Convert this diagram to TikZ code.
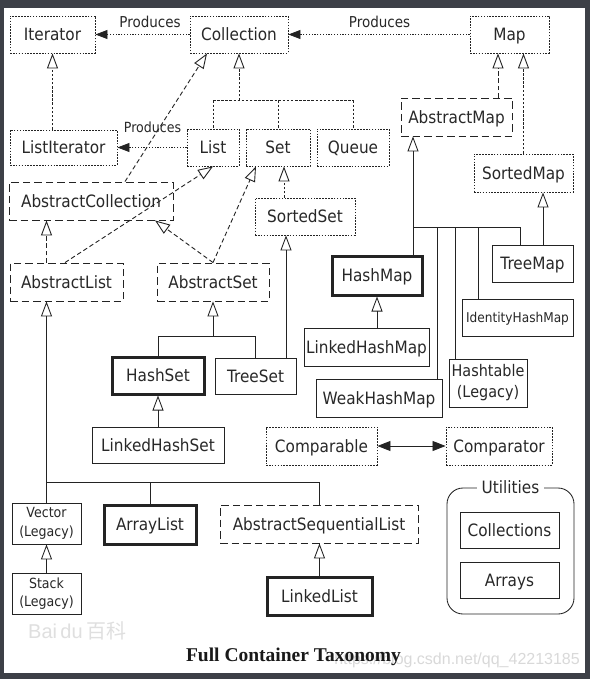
\documentclass[tikz,border=0pt]{standalone}
\usepackage{fontspec}
\setmainfont{DejaVu Sans}[FakeStretch=0.9]
\newfontfamily\titlefont{Liberation Serif}
\newfontfamily\wmfont{Liberation Sans}
\newfontfamily\cjkfont{Noto Sans CJK SC}
\usetikzlibrary{arrows.meta,calc}
\definecolor{bgdark}{RGB}{61,64,71}
\definecolor{ln}{RGB}{35,35,35}
\definecolor{txt}{RGB}{40,40,40}
\newcommand\fs[2]{\fontsize{#1}{#2}\selectfont}
\tikzset{
  boxbase/.style={inner sep=0pt, text=txt, font=\fs{17}{20}, text height=12.4pt, text depth=0pt},
  sz/.style 2 args={minimum width=#1pt, minimum height=#2pt},
  iface/.style={boxbase, draw=ln, line width=0.9pt, dash pattern=on 1.6pt off 1.3pt},
  absc/.style={boxbase, draw=ln, line width=0.9pt, dash pattern=on 7.5pt off 4pt},
  cls/.style={boxbase, draw=ln, line width=0.85pt},
  mainc/.style={boxbase, draw=ln, line width=3pt},
  cls2/.style={inner sep=0pt, text=txt, align=center, draw=ln, line width=0.85pt},
  smalltext/.style={font=\fs{13.5}{16}, text height=9.8pt},
  iline/.style={draw=ln, line width=0.9pt, dash pattern=on 2.5pt off 1.6pt},
  aline/.style={draw=ln, line width=0.9pt, dash pattern=on 4.5pt off 2.8pt},
  cline/.style={draw=ln, line width=0.85pt},
  inh/.style={-{Triangle[open,length=15pt,width=11pt]}},
  prod/.style={draw=ln, line width=0.8pt, dash pattern=on 1.2pt off 1.6pt, -{Triangle[length=12pt,width=9pt]}},
  prodlabel/.style={inner sep=0pt, text=txt, font=\fs{15}{18}, anchor=base},
  wm/.style={inner sep=0pt, anchor=base east}
}
\begin{document}
\begin{tikzpicture}[x=1pt,y=-1pt]
\useasboundingbox (0,0) rectangle (590,679);
\fill[bgdark] (0,0) rectangle (590,679);
\fill[white] (4,8) rectangle (585,673);

% interfaces
\node[iface, sz={85}{37}] (iterator) at (52.5,34.5) {Iterator};
\node[iface, sz={98}{37}] (collection) at (239,34.5) {Collection};
\node[iface, sz={79}{37}] (map) at (509.5,34.5) {Map};
\node[iface, sz={107}{35}] (listiterator) at (63.5,147.5) {ListIterator};
\node[iface, sz={52}{37}] (list) at (213,147.5) {List};
\node[iface, sz={64}{37}] (set) at (278,147.5) {Set};
\node[iface, sz={72}{37}] (queue) at (353,147.5) {Queue};
\node[iface, sz={100}{37}] (sortedset) at (305,216.5) {SortedSet};
\node[iface, sz={99}{38}] (sortedmap) at (523.5,173) {SortedMap};
\node[iface, sz={111}{38}] (comparable) at (321.5,446) {Comparable};
\node[iface, sz={106}{38}] (comparator) at (499,446) {Comparator};
% abstract classes
\node[absc, sz={164}{38}] (abscoll) at (91,201) {AbstractCollection};
\node[absc, sz={111}{38}] (absmap) at (456.5,117) {AbstractMap};
\node[absc, sz={113}{38}] (abslist) at (66.5,282) {AbstractList};
\node[absc, sz={112}{38}] (absset) at (213,282) {AbstractSet};
\node[absc, sz={198}{38}] (asl) at (319,524) {AbstractSequentialList};
% classes
\node[cls, sz={81}{37}] (treemap) at (532.5,263.5) {TreeMap};
\node[mainc, sz={90}{39}] (hashmap) at (377,275.5) {HashMap};
\node[cls, smalltext, sz={111}{37}] (identityhashmap) at (517.5,317.5) {IdentityHashMap};
\node[cls, sz={125}{38}] (linkedhashmap) at (366.5,347) {LinkedHashMap};
\node[mainc, sz={92}{37}] (hashset) at (158,375.5) {HashSet};
\node[cls, sz={81}{36}] (treeset) at (255.5,376) {TreeSet};
\node[cls2, font=\fs{16}{21}, sz={78}{48}] (hashtable) at (488,383) {Hashtable\\(Legacy)};
\node[cls, sz={126}{38}] (weakhashmap) at (379,398) {WeakHashMap};
\node[cls, sz={132}{36}] (linkedhashset) at (158,445) {LinkedHashSet};
\node[cls2, font=\fs{14}{18.5}, sz={69}{41}] (vector) at (46.5,523.5) {Vector\\(Legacy)};
\node[mainc, sz={92}{39}] (arraylist) at (150,524.5) {ArrayList};
\node[cls2, font=\fs{14}{18.5}, sz={69}{41}] (stack) at (46.5,593.5) {Stack\\(Legacy)};
\node[mainc, sz={105}{38}] (linkedlist) at (319.5,596) {LinkedList};
% utilities
\node[draw=ln, line width=0.85pt, rounded corners=16pt, sz={127}{126}] (utilities) at (510.5,551) {};
\node[boxbase, fill=white, inner xsep=5pt, inner ysep=2pt] (utillabel) at (utilities.north) {Utilities};
\node[cls, sz={99}{36}] (collections) at (509.5,530) {Collections};
\node[cls, sz={99}{36}] (arrays) at (509.5,580) {Arrays};

% Produces
\draw[prod] (collection.west) -- (iterator.east);
\draw[prod] (map.west) -- (collection.east);
\draw[prod] (list.west) -- (listiterator.east);
\node[prodlabel] (prod1) at (150,28) {Produces};
\node[prodlabel] (prod2) at (379.5,28) {Produces};
\node[prodlabel, font=\fs{14}{17}] (prod3) at (152.5,133) {Produces};

% interface inheritance
\draw[iline, inh] (iterator.south |- listiterator.north) -- (iterator.south);
\coordinate (cj) at ($(collection.south)+(0,47)$);
\draw[iline, inh] (cj) -- (collection.south);
\draw[iline] (list.north |- cj) -- (queue.north |- cj);
\draw[iline] (list.north |- cj) -- (list.north);
\draw[iline] (set.north |- cj) -- (set.north);
\draw[iline] (queue.north |- cj) -- (queue.north);
\draw[iline, inh] ($(sortedset.north)+(-21,0)$) -- ($(set.south)+(6,0)$);

% abstract implementations
\draw[aline, inh] ($(abscoll.north)+(34,0)$) -- ($(collection.south)+(-32,0)$);
\draw[aline, inh] ($(abslist.north)+(-1.5,0)$) -- (list.south);
\draw[aline, inh] ($(abslist.north)+(-20,0)$) -- ($(abscoll.south)+(-44.5,0)$);
\draw[aline, inh] (absset.north) -- ($(set.south)+(-22,0)$);
\draw[aline, inh] (absset.north) -- ($(abscoll.south)+(64,0)$);

% sets
\draw[cline, inh] ($(treeset.north)+(30.5,0)$) -- ($(sortedset.south)+(-19,0)$);
\coordinate (sj) at ($(absset.south)+(0,35)$);
\draw[cline, inh] (sj) -- (absset.south);
\draw[cline] (hashset.north) |- (sj) -| (treeset.north);
\draw[cline, inh] (linkedhashset.north) -- (hashset.south);

% lists
\coordinate (lj) at ($(abslist.south)+(-20,181)$);
\draw[cline, inh] (lj) -- ($(abslist.south)+(-20,0)$);
\draw[cline] (vector.north) -- (lj) -- (asl.north |- lj) -- (asl.north);
\draw[cline] (arraylist.north |- lj) -- (arraylist.north);
\draw[cline, inh] (stack.north) -- (vector.south);
\draw[cline, inh] (linkedlist.north) -- (linkedlist.north |- asl.south);

% maps
\draw[aline, inh] ($(absmap.north)+(41.5,0)$) -- ($(map.south)+(-11.5,0)$);
\draw[iline, inh] (sortedmap.north) -- (sortedmap.north |- map.south);
\coordinate (mj) at ($(absmap.south)+(-43.5,91)$);
\coordinate (m1) at ($(mj)+(24,0)$);
\coordinate (m2) at ($(mj)+(42,0)$);
\coordinate (m3) at ($(mj)+(65,0)$);
\coordinate (m4) at ($(mj)+(107,0)$);
\draw[cline, inh] (mj) -- ($(absmap.south)+(-43.5,0)$);
\draw[cline] (mj |- hashmap.north) -- (mj) -- (m4) -- (m4 |- treemap.north);
\draw[cline] (m1) -- (m1 |- weakhashmap.north);
\draw[cline] (m2) -- (m2 |- hashtable.north);
\draw[cline] (m3) -- (m3 |- identityhashmap.north);
\draw[cline, inh] ($(treemap.north)+(10.5,0)$) -- ($(sortedmap.south)+(19.5,0)$);
\draw[cline, inh] (hashmap.south |- linkedhashmap.north) -- (hashmap.south);

% comparable <-> comparator
\draw[cline, {Triangle[length=13pt,width=10pt]}-{Triangle[length=13pt,width=10pt]}] (comparable.east) -- (comparator.west);

% watermarks and title
\node[wm, text=gray!30, font=\wmfont\fs{16}{19}] (csdn) at (580,664) {https://blog.csdn.net/qq\_42213185};
\node[anchor=base west, inner sep=0pt, text=gray!25, font=\wmfont\fs{20}{24}] (baidu) at (28,638) {Bai\,du\,{\cjkfont 百科}};
\node[anchor=base, inner sep=0pt, text=black!90, font=\titlefont\bfseries\fs{19.5}{23}] (title) at (293.5,661) {Full Container Taxonomy};
\end{tikzpicture}
\end{document}
